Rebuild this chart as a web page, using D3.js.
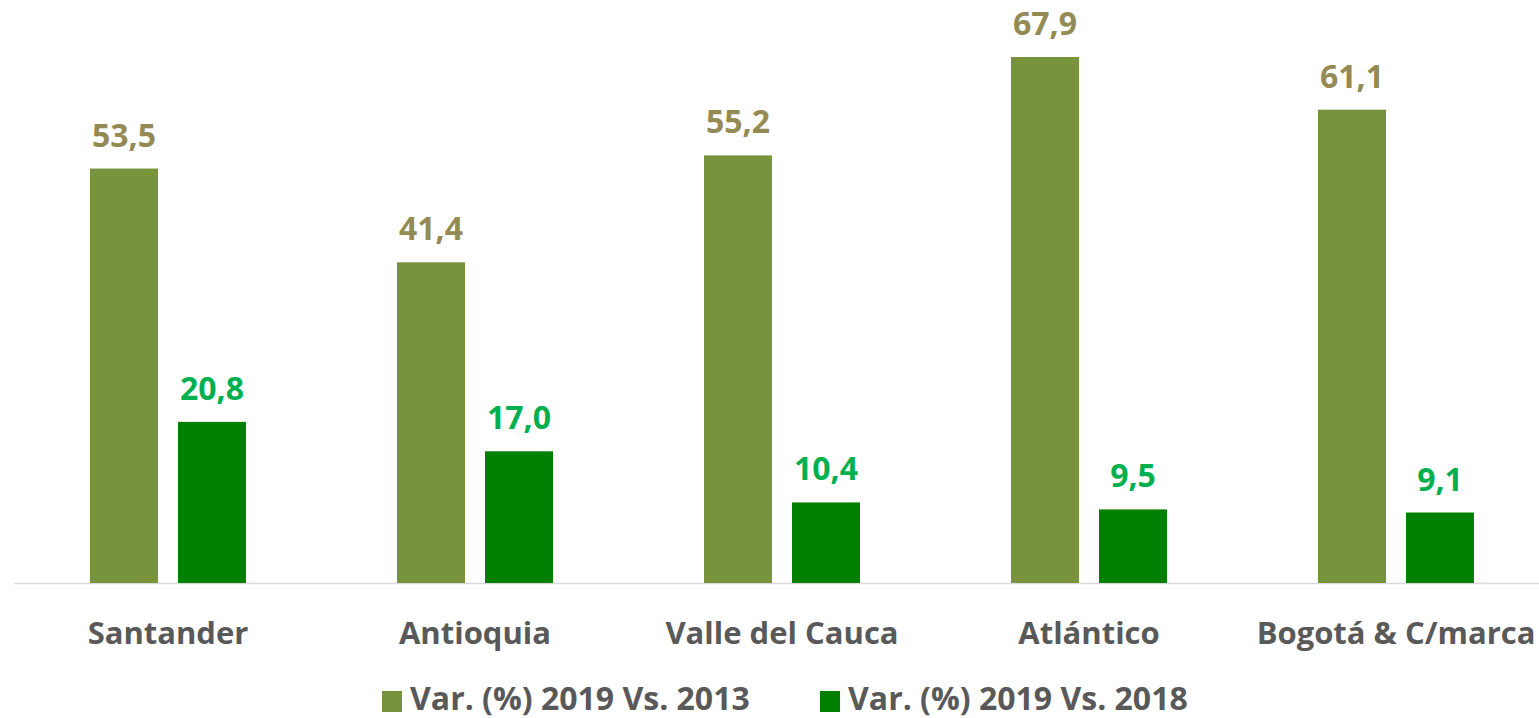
<!DOCTYPE html>
<html>
<head>
<meta charset="utf-8">
<script src="https://cdn.jsdelivr.net/npm/d3@7"></script>
<style>
  html, body { margin: 0; padding: 0; background: #fff; }
  svg { display: block; }
  text { font-family: "Open Sans", Lato, sans-serif; font-weight: 700; }
</style>
</head>
<body>
<svg id="chart" width="1539" height="718"></svg>
<script>
// Regions compared
const categories = ["Santander", "Antioquia", "Valle del Cauca", "Atlántico", "Bogotá & C/marca"];
// Growth 2019 vs 2013 (%)
const var2013 = [53.5, 41.4, 55.2, 67.9, 61.1];
// Growth 2019 vs 2018 (%)
const var2018 = [20.8, 17.0, 10.4, 9.5, 9.1];
const seriesNames = ["Var. (%) 2019 Vs. 2013", "Var. (%) 2019 Vs. 2018"];
const barColors = ["#77933C", "#008000"];
const labelColors = ["#948A54", "#00B050"];

const svg = d3.select("#chart");
const fmt = v => d3.format(".1f")(v).replace(".", ",");

const x = d3.scaleBand().domain(categories).range([14.5, 1549.5]).paddingInner(0).paddingOuter(0);
const sub = d3.scaleBand().domain([0, 1])
  .range([x.bandwidth() / 2 - 78, x.bandwidth() / 2 + 78])
  .paddingInner(20 / 88).paddingOuter(0);
const y = d3.scaleLinear().domain([0, 75]).range([583, 2]);

const rows = categories.map((c, i) => ({ cat: c, vals: [var2013[i], var2018[i]] }));

// baseline
svg.append("line")
  .attr("x1", x.range()[0]).attr("x2", x.range()[1])
  .attr("y1", y(0) + 0.5).attr("y2", y(0) + 0.5)
  .attr("stroke", "#D9D9D9").attr("stroke-width", 1.5);

const g = svg.selectAll("g.cat").data(rows).join("g")
  .attr("class", "cat")
  .attr("transform", d => `translate(${x(d.cat)},0)`);

g.selectAll("rect").data(d => d.vals.map((v, s) => ({ v, s }))).join("rect")
  .attr("x", d => sub(d.s))
  .attr("width", sub.bandwidth())
  .attr("y", d => y(d.v))
  .attr("height", d => y(0) - y(d.v))
  .attr("fill", d => barColors[d.s]);

g.selectAll("text.val").data(d => d.vals.map((v, s) => ({ v, s }))).join("text")
  .attr("class", "val")
  .attr("x", d => sub(d.s) + sub.bandwidth() / 2)
  .attr("y", d => y(d.v) - 22)
  .attr("text-anchor", "middle")
  .attr("font-size", 32)
  .attr("fill", d => labelColors[d.s])
  .text(d => fmt(d.v));

// category axis labels
const xAxis = d3.axisBottom(x).tickSize(0).tickPadding(0);
const ax = svg.append("g").attr("transform", `translate(0,${y(0)})`).call(xAxis);
ax.select(".domain").remove();
ax.selectAll("text")
  .attr("y", 61)
  .attr("dy", 0)
  .attr("font-size", 31)
  .attr("font-family", "'Open Sans', Lato, sans-serif")
  .attr("font-weight", 700)
  .attr("fill", "#595959");

// legend
const legendX = [382, 820];
const lg = svg.selectAll("g.leg").data(seriesNames).join("g")
  .attr("class", "leg")
  .attr("transform", (d, i) => `translate(${legendX[i]},0)`);
lg.append("rect").attr("x", 0).attr("y", 691).attr("width", 20).attr("height", 21)
  .attr("fill", (d, i) => barColors[i]);
lg.append("text").attr("x", 28).attr("y", 710)
  .attr("font-size", 32).attr("fill", "#595959")
  .text(d => d);
</script>
</body>
</html>
